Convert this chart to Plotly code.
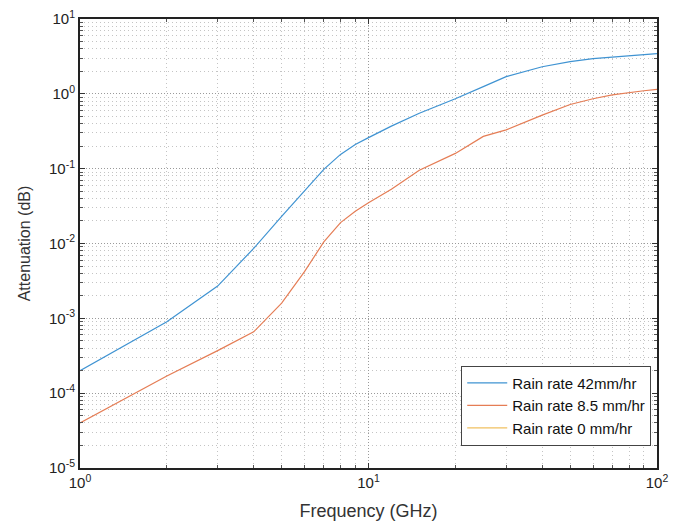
import plotly.graph_objects as go

freq = [1, 2, 3, 4, 5, 6, 7, 8, 9, 10, 12, 15, 20, 25, 30, 40, 50, 60, 70, 80, 90, 100]
att_42 = [2.0e-4, 9.0e-4, 2.7e-3, 8.6e-3, 0.023, 0.050, 0.098, 0.155, 0.21, 0.26,
          0.37, 0.55, 0.86, 1.25, 1.7, 2.3, 2.7, 2.95, 3.1, 3.25, 3.35, 3.45]
att_85 = [4.0e-5, 1.7e-4, 3.7e-4, 6.6e-4, 1.6e-3, 4.2e-3, 0.0105, 0.019, 0.027, 0.035,
          0.053, 0.095, 0.16, 0.27, 0.33, 0.52, 0.72, 0.86, 0.97, 1.05, 1.1, 1.15]
att_0 = [0.0] * len(freq)

series_names = ["Rain rate 42mm/hr", "Rain rate 8.5 mm/hr", "Rain rate 0 mm/hr"]
series_colors = ["#3f93d2", "#e57d55", "#f0c060"]

x_tickvals = [1, 10, 100]
x_ticktext = ["10<sup>0</sup>", "10<sup>1</sup>", "10<sup>2</sup>"]
x_minorvals = [2, 3, 4, 5, 6, 7, 8, 9, 20, 30, 40, 50, 60, 70, 80, 90]
y_tickvals = [1e-5, 1e-4, 1e-3, 1e-2, 1e-1, 1, 10]
y_ticktext = ["10<sup>-5</sup>", "10<sup>-4</sup>", "10<sup>-3</sup>", "10<sup>-2</sup>",
              "10<sup>-1</sup>", "10<sup>0</sup>", "10<sup>1</sup>"]
y_minorvals = [m * 10 ** e for e in range(-5, 1) for m in range(2, 10)]

FONT = "Liberation Sans, Arial, sans-serif"

axis_common = dict(
    type="log", automargin=False, ticklabeloverflow="allow",
    showline=True, linecolor="#222222", linewidth=2, mirror="ticks",
    ticks="inside", ticklen=5, tickcolor="#333333",
    showgrid=True, gridcolor="#9a9a9a", griddash="1px,2px", gridwidth=1,
    zeroline=False,
    tickfont=dict(family=FONT, size=15, color="#222222"),
)

fig = go.Figure()
for name, ys, col in zip(series_names, [att_42, att_85, att_0], series_colors):
    fig.add_trace(go.Scatter(x=freq, y=ys, mode="lines", name=name,
                             line=dict(color=col, width=1.2)))

fig.update_xaxes(**axis_common, range=[0, 2], tickvals=x_tickvals, ticktext=x_ticktext,
                 minor=dict(tickvals=x_minorvals, showgrid=True, gridcolor="#c4c4c4",
                            griddash="1px,3px", gridwidth=1,
                            ticks="inside", ticklen=3, tickcolor="#555555"),
                 title=dict(text="Frequency (GHz)", standoff=14,
                            font=dict(family=FONT, size=18, color="#333333")))
fig.update_yaxes(**axis_common, range=[-5, 1], tickvals=y_tickvals, ticktext=y_ticktext,
                 minor=dict(tickvals=y_minorvals, showgrid=True, gridcolor="#c4c4c4",
                            griddash="1px,3px", gridwidth=1,
                            ticks="inside", ticklen=3, tickcolor="#555555"),
                 title=dict(text="Attenuation (dB)", standoff=14,
                            font=dict(family=FONT, size=16, color="#333333")))

fig.update_layout(
    width=683, height=524,
    margin=dict(l=72, r=34, t=11, b=64),
    paper_bgcolor="white", plot_bgcolor="white",
    showlegend=True,
    legend=dict(x=0.99, y=0.05, xanchor="right", yanchor="bottom",
                bgcolor="white", bordercolor="#444444", borderwidth=1,
                font=dict(family=FONT, size=15, color="#111111"),
                tracegroupgap=0, itemwidth=40),
)

fig.write_html("out.html")
